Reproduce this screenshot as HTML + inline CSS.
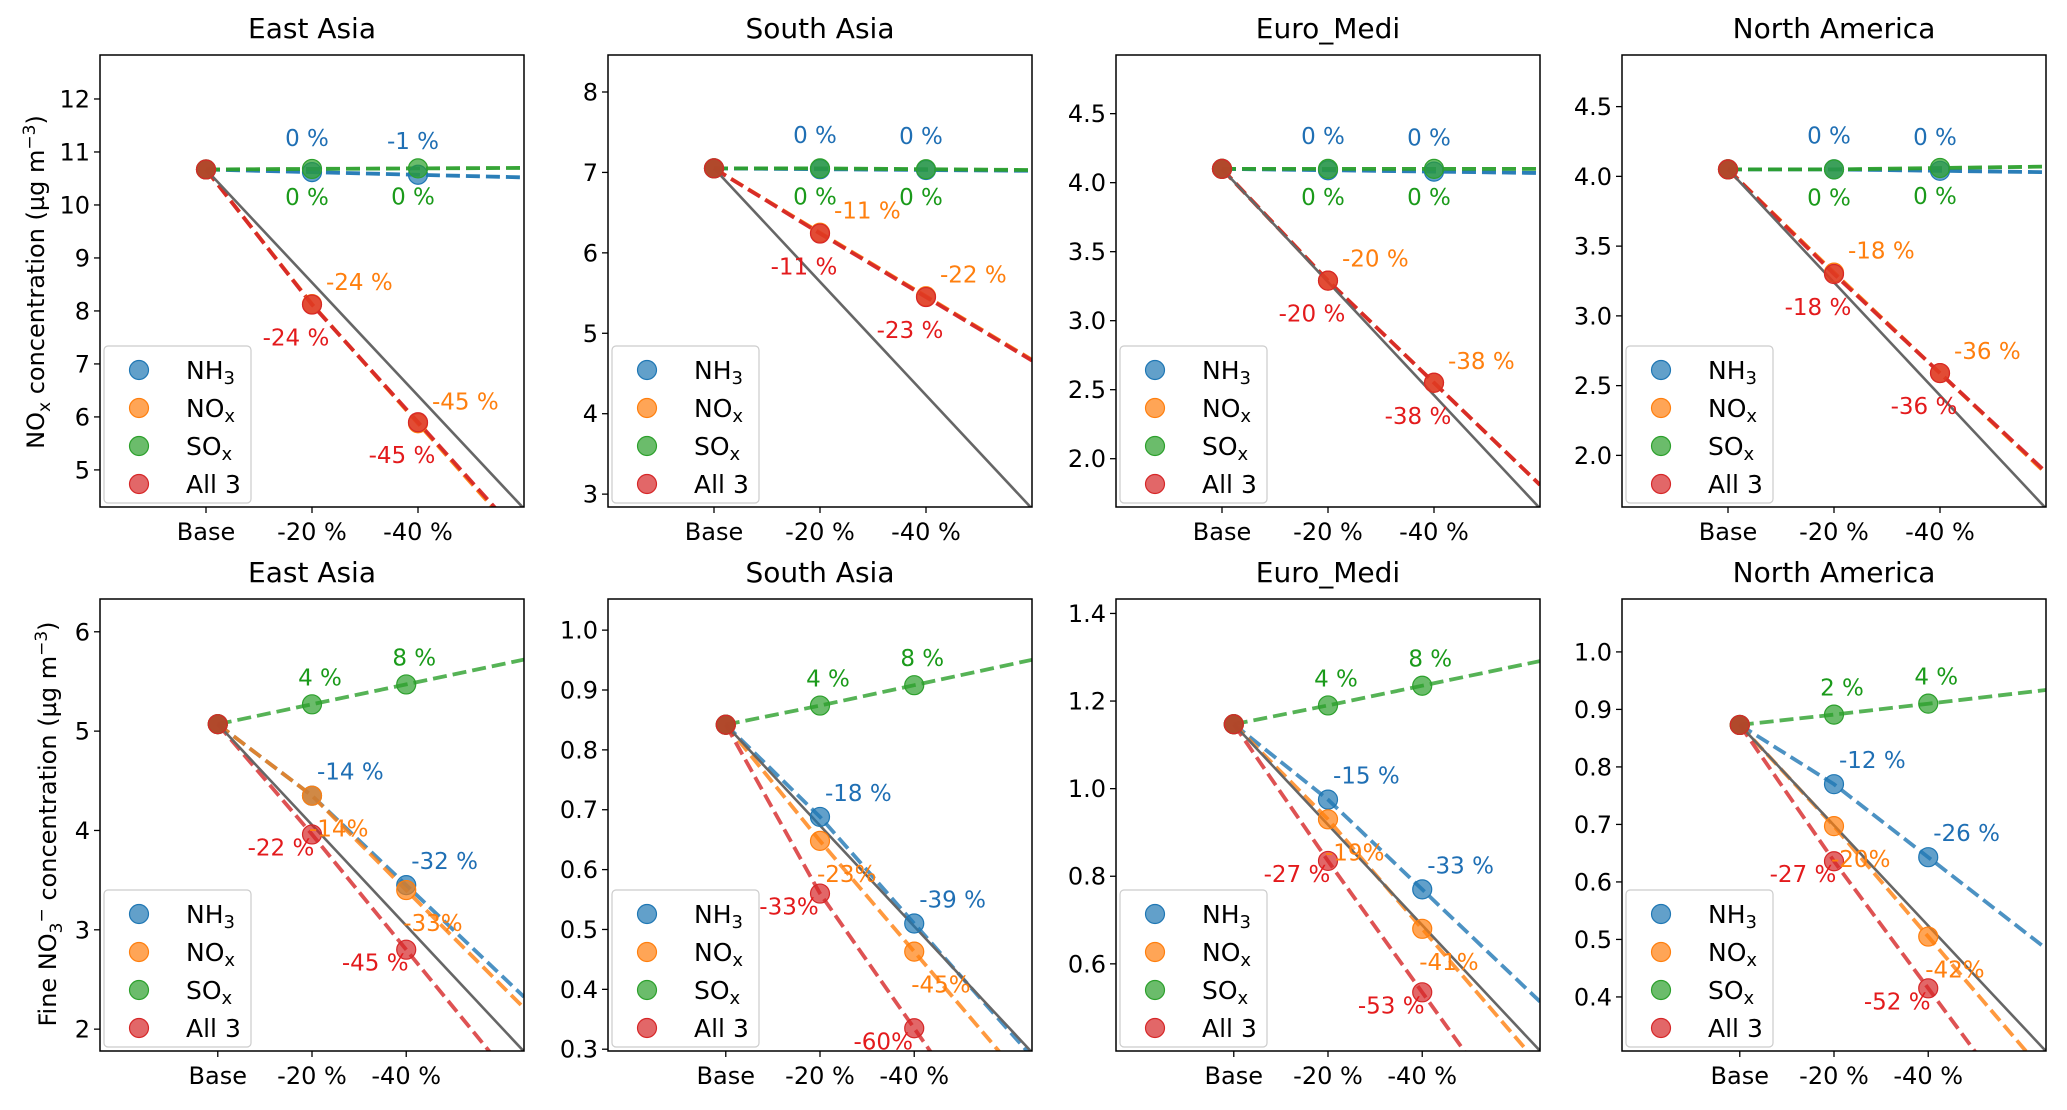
<!DOCTYPE html>
<html><head><meta charset="utf-8">
<style>
html,body{margin:0;padding:0;background:#fff;overflow:hidden;width:2067px;height:1110px;}
svg{display:block;font-family:"DejaVu Sans","Liberation Sans",sans-serif;}
</style></head>
<body>
<svg id="fig" width="2067" height="1110" viewBox="0 0 2067 1110" xmlns="http://www.w3.org/2000/svg">
<text transform="translate(44,282) rotate(-90)" text-anchor="middle" font-size="24">NO<tspan font-size="17" dy="6">x</tspan><tspan dy="-6"> concentration (µg m</tspan><tspan font-size="17" dy="-9">−3</tspan><tspan dy="9">)</tspan></text>
<text transform="translate(56,824) rotate(-90)" text-anchor="middle" font-size="24">Fine NO<tspan font-size="17" dy="6">3</tspan><tspan font-size="17" dy="-15">−</tspan><tspan dy="9"> concentration (µg m</tspan><tspan font-size="17" dy="-9">−3</tspan><tspan dy="9">)</tspan></text>
</svg>
<script>
// ---- data ----
const regions = ["East Asia","South Asia","Euro_Medi","North America"];
const categories = ["Base","-20 %","-40 %"];
const seriesNames = ["NH3","NOx","SOx","All 3"];
// top row: NOx concentration [region][series][point]
const topNH3 = [[10.67,10.62,10.57],[7.05,7.04,7.03],[4.10,4.09,4.08],[4.05,4.05,4.04]];
const topNOx = [[10.67,8.13,5.88],[7.05,6.25,5.46],[4.10,3.29,2.55],[4.05,3.31,2.59]];
const topSOx = [[10.67,10.68,10.69],[7.05,7.05,7.04],[4.10,4.10,4.10],[4.05,4.05,4.06]];
const topAll = [[10.67,8.12,5.90],[7.05,6.24,5.45],[4.10,3.29,2.55],[4.05,3.30,2.59]];
const topLblNH3 = [["0 %","-1 %"],["0 %","0 %"],["0 %","0 %"],["0 %","0 %"]];
const topLblNOx = [["-24 %","-45 %"],["-11 %","-22 %"],["-20 %","-38 %"],["-18 %","-36 %"]];
const topLblSOx = [["0 %","0 %"],["0 %","0 %"],["0 %","0 %"],["0 %","0 %"]];
const topLblAll = [["-24 %","-45 %"],["-11 %","-23 %"],["-20 %","-38 %"],["-18 %","-36 %"]];
const topYlim = [[4.3,12.83],[2.84,8.46],[1.65,4.925],[1.63,4.87]];
const topTicks = [[5,6,7,8,9,10,11,12],[3,4,5,6,7,8],[2.0,2.5,3.0,3.5,4.0,4.5],[2.0,2.5,3.0,3.5,4.0,4.5]];
// bottom row: fine nitrate
const botNH3 = [[5.07,4.35,3.45],[0.842,0.688,0.510],[1.147,0.975,0.770],[0.873,0.770,0.643]];
const botNOx = [[5.07,4.35,3.40],[0.842,0.648,0.463],[1.147,0.930,0.680],[0.873,0.697,0.505]];
const botSOx = [[5.07,5.27,5.47],[0.842,0.874,0.908],[1.147,1.190,1.235],[0.873,0.891,0.910]];
const botAll = [[5.07,3.96,2.80],[0.842,0.560,0.335],[1.147,0.835,0.535],[0.873,0.636,0.415]];
const botLblNH3 = [["-14 %","-32 %"],["-18 %","-39 %"],["-15 %","-33 %"],["-12 %","-26 %"]];
const botLblNOx = [["-14%","-33%"],["-23%","-45%"],["-19%","-41%"],["-20%","-42%"]];
const botLblSOx = [["4 %","8 %"],["4 %","8 %"],["4 %","8 %"],["2 %","4 %"]];
const botLblAll = [["-22 %","-45 %"],["-33%","-60%"],["-27 %","-53 %"],["-27 %","-52 %"]];
const botYlim = [[1.78,6.33],[0.297,1.052],[0.401,1.433],[0.306,1.092]];
const botTicks = [[2,3,4,5,6],[0.3,0.4,0.5,0.6,0.7,0.8,0.9,1.0],[0.6,0.8,1.0,1.2,1.4],[0.4,0.5,0.6,0.7,0.8,0.9,1.0]];

// ---- rendering ----
const NS="http://www.w3.org/2000/svg";
const svg=document.getElementById('fig');
const colors=["#1f77b4","#ff7f0e","#2ca02c","#d62728"];
const txtColors=["#1f6fb4","#ff7f0e","#1a9a1a","#e31a1c"];
const colLeft=[100,608,1116,1622];
const W=424;
function mk(tag,attrs,parent){const e=document.createElementNS(NS,tag);for(const k in attrs)e.setAttribute(k,attrs[k]);(parent||svg).appendChild(e);return e;}

function panel(row,c){
  const top=row===0?55:599, bot=row===0?507:1051;
  const L=colLeft[c], R=L+W;
  const xlim=row===0?[-1,3]:[-1.25,3.25];
  const ylim=row===0?topYlim[c]:botYlim[c];
  const ticks=row===0?topTicks[c]:botTicks[c];
  const xs=v=>L+(v-xlim[0])/(xlim[1]-xlim[0])*W;
  const ys=v=>bot-(v-ylim[0])/(ylim[1]-ylim[0])*(bot-top);
  const g=mk('g',{});
  
  
  const cid='clip'+row+c;
  const cp=mk('clipPath',{id:cid},g);mk('rect',{x:L,y:top,width:W,height:bot-top},cp);
  const t=mk('text',{x:(L+R)/2,y:top-17,'text-anchor':'middle','font-size':28},g);t.textContent=regions[c];
  
  
  const intTicks=(row===0&&(c===0||c===1))||(row===1&&c===0);
  ticks.forEach(v=>{const y=ys(v);mk('line',{x1:L-6,x2:L,y1:y,y2:y,stroke:'#000','stroke-width':1.3},g);
    const tt=mk('text',{x:L-10,y:y+8.5,'text-anchor':'end','font-size':24},g);
    tt.textContent=intTicks?String(v):v.toFixed(1);
    
    });
  categories.forEach((lab,i)=>{const x=xs(i);mk('line',{x1:x,x2:x,y1:bot,y2:bot+6,stroke:'#000','stroke-width':1.3},g);
    const tt=mk('text',{x:x,y:bot+33,'text-anchor':'middle','font-size':24},g);tt.textContent=lab;
    
    });
  const data=row===0?[topNH3[c],topNOx[c],topSOx[c],topAll[c]]:[botNH3[c],botNOx[c],botSOx[c],botAll[c]];
  const labels=row===0?[topLblNH3[c],topLblNOx[c],topLblSOx[c],topLblAll[c]]:[botLblNH3[c],botLblNOx[c],botLblSOx[c],botLblAll[c]];
  const cg=mk('g',{'clip-path':'url(#'+cid+')'},g);
  const alphaL=row===0?0.95:0.8;
  data.forEach((d,s)=>{
    const ext=d[2]+(d[2]-d[1])*(xlim[1]-2);
    const pts=[[0,d[0]],[1,d[1]],[2,d[2]],[xlim[1],ext]].map(p=>xs(p[0]).toFixed(1)+','+ys(p[1]).toFixed(1)).join(' ');
    const pl=mk('polyline',{points:pts,fill:'none',stroke:colors[s],'stroke-width':3.8,'stroke-dasharray':'14,6','stroke-opacity':alphaL},cg);
    
    
  });
  const b=data[0][0];
  const gl=mk('line',{x1:xs(0),y1:ys(b),x2:xs(xlim[1]),y2:ys(b*(1-0.2*xlim[1])),stroke:'#666','stroke-width':2.6},cg);
  
  
  data.forEach((d,s)=>{d.forEach((v,i)=>{
    const m=mk('circle',{cx:xs(i),cy:ys(v),r:9.5,fill:colors[s],'fill-opacity':0.7,stroke:colors[s],'stroke-width':1.2},g);
    
    });});
  const offTop=[[-5,-26,'middle'],[14,-14,'start'],[-5,36,'middle'],[-16,41,'middle']];
  const offBot=[[5,-16,'start'],[-3,41,'start'],[8,-19,'middle'],[-31,21,'middle']];
  const off=row===0?offTop:offBot;
  labels.forEach((ls,s)=>{ls.forEach((lab,k)=>{const i=k+1;const v=data[s][i];
    const tt=mk('text',{x:xs(i)+off[s][0],y:ys(v)+off[s][1],'text-anchor':off[s][2],'font-size':23,fill:txtColors[s]},g);
    tt.textContent=lab;
    
    });});
  mk('rect',{x:L,y:top,width:W,height:bot-top,fill:'none',stroke:'#000','stroke-width':1.5},g);
  const lg=mk('g',{},g);
  
  
  mk('rect',{x:L+4,y:bot-161,width:147,height:157,rx:4,fill:'#fff','fill-opacity':0.8,stroke:'#ccc','stroke-width':1.2},lg);
  const names=[['NH','3'],['NO','x'],['SO','x'],['All 3','']];
  names.forEach((n,s)=>{const y=bot-137+s*38;
    mk('circle',{cx:L+39,cy:y,r:9.5,fill:colors[s],'fill-opacity':0.7,stroke:colors[s],'stroke-width':1.2},lg);
    const tt=mk('text',{x:L+86,y:y+9,'font-size':25},lg);
    
    
    tt.appendChild(document.createTextNode(n[0]));
    if(n[1]){const sp=mk('tspan',{'font-size':18,dy:5},tt);sp.textContent=n[1];}
  });
}
for(let r=0;r<2;r++)for(let c=0;c<4;c++)panel(r,c);
</script>
</body></html>
